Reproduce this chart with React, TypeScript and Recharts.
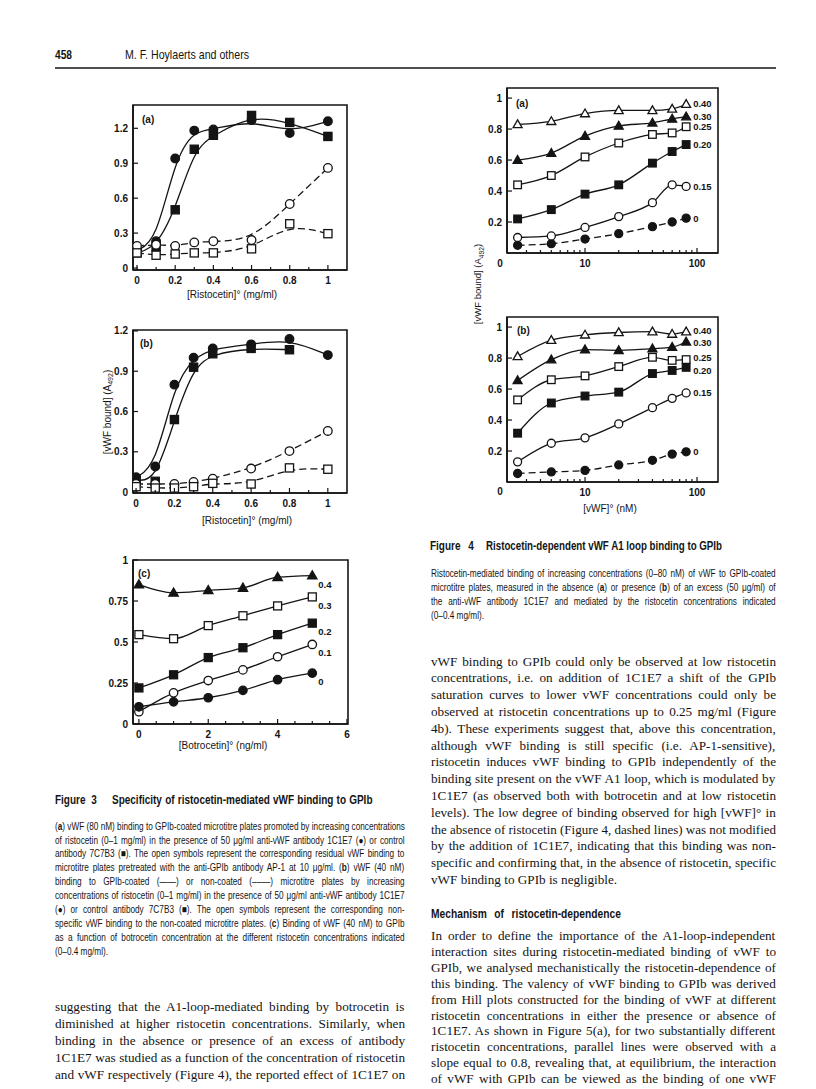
import React from "react";
import { LineChart, Line, XAxis, YAxis, ReferenceArea } from "recharts";

const SANS = "'Liberation Sans', Arial, Helvetica, sans-serif";
const SERIF = "'Liberation Serif', 'Times New Roman', serif";
const INK = "#141414";

// ---------- Figure 3 (a), (b): [Ristocetin] mg/ml ----------
const ristocetin = [0, 0.1, 0.2, 0.3, 0.4, 0.6, 0.8, 1];
const a_1C1E7 = [0.15, 0.23, 0.94, 1.18, 1.19, 1.27, 1.16, 1.26];
const a_7C7B3 = [0.13, 0.18, 0.5, 1.02, 1.14, 1.31, 1.25, 1.13];
const a_1C1E7_AP1 = [0.19, 0.2, 0.19, 0.22, 0.23, 0.24, 0.55, 0.86];
const a_7C7B3_AP1 = [0.13, 0.11, 0.12, 0.13, 0.13, 0.165, 0.38, 0.295];

const b_1C1E7 = [0.11, 0.19, 0.8, 1.0, 1.07, 1.1, 1.14, 1.02];
const b_7C7B3 = [0.09, 0.08, 0.54, 0.93, 1.03, 1.07, 1.06, null];
const b_1C1E7_noncoated = [0.06, 0.06, 0.06, 0.075, 0.1, 0.175, 0.305, 0.455];
const b_7C7B3_noncoated = [0.04, 0.03, 0.03, 0.04, 0.065, 0.06, 0.18, 0.17];

// ---------- Figure 3 (c): [Botrocetin] ng/ml ----------
const botrocetin = [0, 1, 2, 3, 4, 5];
const c_r04 = [0.85, 0.8, 0.815, 0.83, 0.895, 0.905];
const c_r03 = [0.545, 0.52, 0.6, 0.66, 0.72, 0.775];
const c_r02 = [0.22, 0.3, 0.405, 0.465, 0.545, 0.615];
const c_r01 = [0.075, 0.19, 0.265, 0.33, 0.41, 0.485];
const c_r0 = [0.105, 0.135, 0.16, 0.205, 0.27, 0.31];

// ---------- Figure 4: [vWF] nM ----------
const vwf = [2.5, 5, 10, 20, 40, 60, 80];
const f4a_040 = [0.83, 0.85, 0.9, 0.92, 0.92, 0.93, 0.96];
const f4a_030 = [0.6, 0.645, 0.755, 0.82, 0.84, 0.865, 0.88];
const f4a_025 = [0.44, 0.5, 0.62, 0.71, 0.765, 0.775, 0.815];
const f4a_020 = [0.22, 0.28, 0.38, 0.44, 0.58, 0.655, 0.7];
const f4a_015 = [0.1, 0.11, 0.165, 0.235, 0.325, 0.44, 0.43];
const f4a_0 = [0.05, 0.06, 0.09, 0.125, 0.17, 0.2, 0.225];

const f4b_040 = [0.81, 0.915, 0.95, 0.965, 0.97, 0.955, 0.97];
const f4b_030 = [0.655, 0.79, 0.855, 0.85, 0.86, 0.87, 0.905];
const f4b_025 = [0.53, 0.66, 0.685, 0.745, 0.805, 0.785, 0.79];
const f4b_020 = [0.315, 0.51, 0.555, 0.58, 0.7, 0.72, 0.74];
const f4b_015 = [0.13, 0.25, 0.285, 0.375, 0.48, 0.54, 0.575];
const f4b_0 = [0.055, 0.065, 0.075, 0.11, 0.14, 0.18, 0.195];

// ---------- ticks ----------
const ristTicks = [0, 0.1, 0.2, 0.3, 0.4, 0.5, 0.6, 0.7, 0.8, 0.9, 1];
const ristLabels = [0, 0.2, 0.4, 0.6, 0.8, 1];
const aYTicks = [0, 0.3, 0.6, 0.9, 1.2];
const botroTicks = [0, 0.5, 1, 1.5, 2, 2.5, 3, 3.5, 4, 4.5, 5, 5.5, 6];
const botroLabels = [0, 2, 4, 6];
const cYTicks = [0, 0.25, 0.5, 0.75, 1];
const logTicks = [3, 4, 5, 6, 7, 8, 9, 10, 20, 30, 40, 50, 60, 70, 80, 90, 100];
const logLabels = [10, 100];
const f4YTicks = [0.2, 0.4, 0.6, 0.8, 1];

// ---------- text ----------
const fig3Caption = [
  "(**a**) vWF (80 nM) binding to GPIb-coated microtitre plates promoted by increasing concentrations",
  "of ristocetin (0–1 mg/ml) in the presence of 50 μg/ml anti-vWF antibody 1C1E7 (●) or control",
  "antibody 7C7B3 (■). The open symbols represent the corresponding residual vWF binding to",
  "microtitre plates pretreated with the anti-GPIb antibody AP-1 at 10 μg/ml. (**b**) vWF (40 nM)",
  "binding to GPIb-coated (——) or non-coated (––––) microtitre plates by increasing",
  "concentrations of ristocetin (0–1 mg/ml) in the presence of 50 μg/ml anti-vWF antibody 1C1E7",
  "(●) or control antibody 7C7B3 (■). The open symbols represent the corresponding non-",
  "specific vWF binding to the non-coated microtitre plates. (**c**) Binding of vWF (40 nM) to GPIb",
  "as a function of botrocetin concentration at the different ristocetin concentrations indicated",
  "(0–0.4 mg/ml).",
];
const fig4Caption = [
  "Ristocetin-mediated binding of increasing concentrations (0–80 nM) of vWF to GPIb-coated",
  "microtitre plates, measured in the absence (**a**) or presence (**b**) of an excess (50 μg/ml) of",
  "the anti-vWF antibody 1C1E7 and mediated by the ristocetin concentrations indicated",
  "(0–0.4 mg/ml).",
];
const leftBody = [
  "suggesting that the A1-loop-mediated binding by botrocetin is",
  "diminished at higher ristocetin concentrations. Similarly, when",
  "binding in the absence or presence of an excess of antibody",
  "1C1E7 was studied as a function of the concentration of ristocetin",
  "and vWF respectively (Figure 4), the reported effect of 1C1E7 on",
];
const rightBody1 = [
  "vWF binding to GPIb could only be observed at low ristocetin",
  "concentrations, i.e. on addition of 1C1E7 a shift of the GPIb",
  "saturation curves to lower vWF concentrations could only be",
  "observed at ristocetin concentrations up to 0.25 mg/ml (Figure",
  "4b). These experiments suggest that, above this concentration,",
  "although vWF binding is still specific (i.e. AP-1-sensitive),",
  "ristocetin induces vWF binding to GPIb independently of the",
  "binding site present on the vWF A1 loop, which is modulated by",
  "1C1E7 (as observed both with botrocetin and at low ristocetin",
  "levels). The low degree of binding observed for high [vWF]° in",
  "the absence of ristocetin (Figure 4, dashed lines) was not modified",
  "by the addition of 1C1E7, indicating that this binding was non-",
  "specific and confirming that, in the absence of ristocetin, specific",
  "vWF binding to GPIb is negligible.",
];
const rightBody2 = [
  "In order to define the importance of the A1-loop-independent",
  "interaction sites during ristocetin-mediated binding of vWF to",
  "GPIb, we analysed mechanistically the ristocetin-dependence of",
  "this binding. The valency of vWF binding to GPIb was derived",
  "from Hill plots constructed for the binding of vWF at different",
  "ristocetin concentrations in either the presence or absence of",
  "1C1E7. As shown in Figure 5(a), for two substantially different",
  "ristocetin concentrations, parallel lines were observed with a",
  "slope equal to 0.8, revealing that, at equilibrium, the interaction",
  "of vWF with GPIb can be viewed as the binding of one vWF",
];

// ---------- helpers ----------
type Shape = "fc" | "oc" | "fs" | "os" | "ft" | "ot";
type Series = {
  key: string;
  values: (number | null)[];
  shape: Shape;
  dashed?: boolean;
  tag?: string;
  tagDy?: number;
};

const fmt = (v: number) => String(v);
const near = (list: number[], v: number) => list.some((l) => Math.abs(l - v) < 1e-6);

function xTick(labels: number[], dy: number) {
  return (p: any) => {
    const v = Number(p.payload.value);
    const major = near(labels, v);
    return (
      <g>
        <line x1={p.x} x2={p.x} y1={p.y} y2={p.y - (major ? 5 : 3)} stroke={INK} strokeWidth={1.2} />
        {major && (
          <text x={p.x} y={p.y + dy} textAnchor="middle" fontFamily={SANS} fontSize={10} fontWeight={700} fill={INK}>
            {fmt(v)}
          </text>
        )}
      </g>
    );
  };
}

function yTick(labels: number[]) {
  return (p: any) => {
    const v = Number(p.payload.value);
    const major = near(labels, v);
    return (
      <g>
        <line x1={p.x} x2={p.x + (major ? 5 : 3)} y1={p.y} y2={p.y} stroke={INK} strokeWidth={1.2} />
        {major && (
          <text x={p.x - 5} y={p.y + 3.5} textAnchor="end" fontFamily={SANS} fontSize={10} fontWeight={700} fill={INK}>
            {fmt(v)}
          </text>
        )}
      </g>
    );
  };
}

function dotRenderer(shape: Shape, r: number, last: number, tag: string | undefined, dx: number, dy: number) {
  return (p: any) => {
    const { cx, cy, index } = p;
    if (cx == null || cy == null || !isFinite(cx) || !isFinite(cy)) return <g key={`e${index}`} />;
    const fill = shape[0] === "f" ? INK : "#fff";
    let m;
    if (shape[1] === "c") m = <circle cx={cx} cy={cy} r={r} fill={fill} stroke={INK} strokeWidth={1.3} />;
    else if (shape[1] === "s")
      m = <rect x={cx - r * 0.95} y={cy - r * 0.95} width={r * 1.9} height={r * 1.9} fill={fill} stroke={INK} strokeWidth={1.3} />;
    else
      m = (
        <polygon
          points={`${cx},${cy - r * 1.15} ${cx - r * 1.12},${cy + r * 0.8} ${cx + r * 1.12},${cy + r * 0.8}`}
          fill={fill}
          stroke={INK}
          strokeWidth={1.3}
        />
      );
    return (
      <g key={`d${index}`}>
        {m}
        {tag && index === last ? (
          <text x={cx + dx} y={cy + dy} fontFamily={SANS} fontSize={9.5} fontWeight={700} fill={INK}>
            {tag}
          </text>
        ) : null}
      </g>
    );
  };
}

type PanelProps = {
  box: { left: number; top: number; width: number; height: number };
  plot: { l: number; t: number; r: number; b: number };
  xs: number[];
  series: Series[];
  xDomain: [number, number];
  yDomain: [number, number];
  xTicks: number[];
  xLabels: number[];
  yTicks: number[];
  yLabels: number[];
  log?: boolean;
  curve: "basis" | "monotone" | "linear";
  r: number;
  tagDx?: number;
  tagDy?: number;
};

function Panel(p: PanelProps) {
  const data = p.xs.map((x, i) => {
    const row: Record<string, number | null> = { x };
    p.series.forEach((s) => {
      const v = s.values[i];
      row[s.key] = v == null ? null : v;
    });
    return row;
  });
  const { left, top, width, height } = p.box;
  return (
    <div style={{ position: "absolute", left, top, width, height }}>
      <LineChart
        width={width}
        height={height}
        data={data}
        margin={{ top: p.plot.t - top, right: left + width - p.plot.r, bottom: 0, left: 0 }}
      >
        <XAxis
          dataKey="x"
          type="number"
          scale={p.log ? "log" : "linear"}
          domain={p.xDomain}
          allowDataOverflow
          ticks={p.xTicks}
          interval={0}
          tickSize={0}
          tickMargin={0}
          tickLine={false}
          height={top + height - p.plot.b}
          axisLine={{ stroke: INK, strokeWidth: 1.6 }}
          tick={xTick(p.xLabels, 13.5)}
        />
        <YAxis
          type="number"
          domain={p.yDomain}
          allowDataOverflow
          ticks={p.yTicks}
          interval={0}
          tickSize={0}
          tickMargin={0}
          tickLine={false}
          width={p.plot.l - left}
          axisLine={{ stroke: INK, strokeWidth: 1.6 }}
          tick={yTick(p.yLabels)}
        />
        <ReferenceArea
          x1={p.xDomain[0]}
          x2={p.xDomain[1]}
          y1={p.yDomain[0]}
          y2={p.yDomain[1]}
          fill="none"
          stroke={INK}
          strokeWidth={1.6}
          ifOverflow="visible"
        />
        {p.series.map((s) => {
          let last = -1;
          s.values.forEach((v, i) => {
            if (v != null) last = i;
          });
          return (
            <Line
              key={s.key}
              dataKey={s.key}
              type={p.curve}
              stroke={INK}
              strokeWidth={1.3}
              strokeDasharray={s.dashed ? "7 4" : undefined}
              dot={dotRenderer(s.shape, p.r, last, s.tag, p.tagDx ?? 6, s.tagDy ?? p.tagDy ?? 3.5)}
              activeDot={false}
              connectNulls={false}
              isAnimationActive={false}
            />
          );
        })}
      </LineChart>
    </div>
  );
}

// ---------- text lines (justified to column width) ----------
let ctx: CanvasRenderingContext2D | null = null;
function textWidth(t: string, font: string) {
  if (!ctx) ctx = document.createElement("canvas").getContext("2d");
  if (!ctx) return t.length * 5;
  ctx.font = font;
  return ctx.measureText(t).width;
}

function TLine(props: {
  x: number;
  y: number;
  w: number;
  text: string;
  size: number;
  family: string;
  weight?: number;
  sx?: number;
  justify?: boolean;
}) {
  const { x, y, w, text, size, family } = props;
  const weight = props.weight ?? 400;
  const sx = props.sx ?? 1;
  const justify = props.justify ?? true;
  const parts = text
    .split(/\*\*(.+?)\*\*/)
    .map((t, i) => ({ t, bold: i % 2 === 1 }))
    .filter((q) => q.t.length > 0);
  const font = (b: boolean) => `${b ? 700 : weight} ${size}px ${family}`;
  const natural = parts.reduce((a, q) => a + textWidth(q.t, font(q.bold)), 0);
  const spaces = (text.replace(/\*\*/g, "").match(/ /g) || []).length;
  const target = w / sx;
  let wordSpacing = 0;
  let textLength: number | undefined;
  if (natural > target) textLength = target;
  else if (justify && spaces) wordSpacing = (target - natural) / spaces;
  return (
    <text
      transform={`translate(${x} ${y}) scale(${sx} 1)`}
      fontFamily={family}
      fontSize={size}
      fontWeight={weight}
      fill={INK}
      style={{ whiteSpace: "pre", wordSpacing }}
      textLength={textLength}
      lengthAdjust="spacingAndGlyphs"
    >
      {parts.map((q, i) => (
        <tspan key={i} fontWeight={q.bold ? 700 : undefined}>
          {q.t}
        </tspan>
      ))}
    </text>
  );
}

function YTitle({ cx, cy, size }: { cx: number; cy: number; size: number }) {
  return (
    <text
      transform={`rotate(-90 ${cx} ${cy})`}
      x={cx}
      y={cy}
      textAnchor="middle"
      fontFamily={SANS}
      fontSize={size}
      fill={INK}
    >
      [vWF bound] (A
      <tspan dy={2.5} fontSize={size * 0.7}>
        492
      </tspan>
      <tspan dy={-2.5}>)</tspan>
    </text>
  );
}

function Overlay() {
  const capSize = 10.3;
  const capSx = 0.8;
  const bodySize = 13.2;
  return (
    <svg width={816} height={1089} style={{ position: "absolute", left: 0, top: 0, pointerEvents: "none" }}>
      {/* running head */}
      <TLine x={55} y={59} w={18} text="458" size={12} family={SANS} weight={700} sx={0.85} />
      <TLine x={125} y={59} w={124} text="M. F. Hoylaerts and others" size={12.5} family={SANS} sx={0.85} />
      <line x1={55} x2={776} y1={68} y2={68} stroke={INK} strokeWidth={1.6} />

      {/* chart annotations */}
      <text x={142} y={123} fontFamily={SANS} fontSize={10} fontWeight={700} fill={INK}>(a)</text>
      <text x={140} y={347} fontFamily={SANS} fontSize={10} fontWeight={700} fill={INK}>(b)</text>
      <text x={138} y={577} fontFamily={SANS} fontSize={10} fontWeight={700} fill={INK}>(c)</text>
      <text x={516} y={107} fontFamily={SANS} fontSize={10} fontWeight={700} fill={INK}>(a)</text>
      <text x={517} y={334} fontFamily={SANS} fontSize={10} fontWeight={700} fill={INK}>(b)</text>
      <text x={500} y={267} textAnchor="middle" fontFamily={SANS} fontSize={10} fontWeight={700} fill={INK}>0</text>
      <text x={500} y={495} textAnchor="middle" fontFamily={SANS} fontSize={10} fontWeight={700} fill={INK}>0</text>

      <text x={232} y={298} textAnchor="middle" fontFamily={SANS} fontSize={10} fill={INK}>[Ristocetin]° (mg/ml)</text>
      <text x={247} y={524} textAnchor="middle" fontFamily={SANS} fontSize={10} fill={INK}>[Ristocetin]° (mg/ml)</text>
      <text x={223} y={749} textAnchor="middle" fontFamily={SANS} fontSize={10} fill={INK}>[Botrocetin]° (ng/ml)</text>
      <text x={610} y={512} textAnchor="middle" fontFamily={SANS} fontSize={10} fill={INK}>[vWF]° (nM)</text>
      <YTitle cx={110.5} cy={412} size={10} />
      <YTitle cx={481} cy={284} size={9.5} />

      {/* Figure 3 caption */}
      <TLine x={55} y={804} w={42} text="Figure 3" size={12.5} family={SANS} weight={700} sx={0.8} />
      <TLine x={112} y={804} w={261} text="Specificity of ristocetin-mediated vWF binding to GPIb" size={12.5} family={SANS} weight={700} sx={0.8} />
      {fig3Caption.map((t, i) => (
        <TLine
          key={`c3${i}`}
          x={55}
          y={829.6 + i * 13.9}
          w={i === fig3Caption.length - 1 ? 57 : 350}
          text={t}
          size={capSize}
          family={SANS}
          sx={capSx}
          justify={i !== fig3Caption.length - 1}
        />
      ))}

      {/* Figure 4 caption */}
      <TLine x={430} y={550} w={44} text="Figure 4" size={12.5} family={SANS} weight={700} sx={0.8} />
      <TLine x={486} y={550} w={236} text="Ristocetin-dependent vWF A1 loop binding to GPIb" size={12.5} family={SANS} weight={700} sx={0.8} />
      {fig4Caption.map((t, i) => (
        <TLine
          key={`c4${i}`}
          x={431}
          y={576.6 + i * 14}
          w={i === fig4Caption.length - 1 ? 56 : 345}
          text={t}
          size={capSize}
          family={SANS}
          sx={capSx}
          justify={i !== fig4Caption.length - 1}
        />
      ))}

      {/* body text */}
      {leftBody.map((t, i) => (
        <TLine key={`l${i}`} x={55} y={1010.5 + i * 17} w={350} text={t} size={bodySize} family={SERIF} />
      ))}
      {rightBody1.map((t, i) => (
        <TLine
          key={`r1${i}`}
          x={431}
          y={665.5 + i * 16.8}
          w={i === rightBody1.length - 1 ? 195 : 345}
          text={t}
          size={bodySize}
          family={SERIF}
          justify={i !== rightBody1.length - 1}
        />
      ))}
      <TLine x={431} y={918} w={190} text="Mechanism of ristocetin-dependence" size={12.5} family={SANS} weight={700} sx={0.82} />
      {rightBody2.map((t, i) => (
        <TLine key={`r2${i}`} x={431} y={940 + i * 15.9} w={345} text={t} size={bodySize} family={SERIF} />
      ))}
    </svg>
  );
}

export default function App() {
  const seriesA: Series[] = [
    { key: "c1e7", values: a_1C1E7, shape: "fc" },
    { key: "c7b3", values: a_7C7B3, shape: "fs" },
    { key: "c1e7ap1", values: a_1C1E7_AP1, shape: "oc", dashed: true },
    { key: "c7b3ap1", values: a_7C7B3_AP1, shape: "os", dashed: true },
  ];
  const seriesB: Series[] = [
    { key: "c1e7", values: b_1C1E7, shape: "fc" },
    { key: "c7b3", values: b_7C7B3, shape: "fs" },
    { key: "c1e7nc", values: b_1C1E7_noncoated, shape: "oc", dashed: true },
    { key: "c7b3nc", values: b_7C7B3_noncoated, shape: "os", dashed: true },
  ];
  const seriesC: Series[] = [
    { key: "r04", values: c_r04, shape: "ft", tag: "0.4" },
    { key: "r03", values: c_r03, shape: "os", tag: "0.3" },
    { key: "r02", values: c_r02, shape: "fs", tag: "0.2" },
    { key: "r01", values: c_r01, shape: "oc", tag: "0.1" },
    { key: "r0", values: c_r0, shape: "fc", tag: "0" },
  ];
  const series4a: Series[] = [
    { key: "r0", values: f4a_0, shape: "fc", dashed: true, tag: "0" },
    { key: "r015", values: f4a_015, shape: "oc", tag: "0.15" },
    { key: "r020", values: f4a_020, shape: "fs", tag: "0.20" },
    { key: "r025", values: f4a_025, shape: "os", tag: "0.25" },
    { key: "r030", values: f4a_030, shape: "ft", tag: "0.30" },
    { key: "r040", values: f4a_040, shape: "ot", tag: "0.40", tagDy: 2.5 },
  ];
  const series4b: Series[] = [
    { key: "r0", values: f4b_0, shape: "fc", dashed: true, tag: "0" },
    { key: "r015", values: f4b_015, shape: "oc", tag: "0.15" },
    { key: "r020", values: f4b_020, shape: "fs", tag: "0.20", tagDy: 6.5 },
    { key: "r025", values: f4b_025, shape: "os", tag: "0.25", tagDy: 1.5 },
    { key: "r030", values: f4b_030, shape: "ft", tag: "0.30", tagDy: 4 },
    { key: "r040", values: f4b_040, shape: "ot", tag: "0.40", tagDy: 2.5 },
  ];

  return (
    <div style={{ position: "absolute", left: 0, top: 0, width: 816, height: 1089, background: "#fff", overflow: "hidden" }}>
      <Panel
        box={{ left: 90, top: 95, width: 270, height: 215 }}
        plot={{ l: 133, t: 105, r: 347, b: 270 }}
        xs={ristocetin}
        series={seriesA}
        xDomain={[-0.021, 1.1]}
        yDomain={[-0.017, 1.4]}
        xTicks={ristTicks}
        xLabels={ristLabels}
        yTicks={aYTicks}
        yLabels={aYTicks}
        curve="basis"
        r={4.3}
      />
      <Panel
        box={{ left: 90, top: 320, width: 270, height: 210 }}
        plot={{ l: 133, t: 330, r: 347, b: 493 }}
        xs={ristocetin}
        series={seriesB}
        xDomain={[-0.016, 1.1]}
        yDomain={[-0.007, 1.207]}
        xTicks={ristTicks}
        xLabels={ristLabels}
        yTicks={aYTicks}
        yLabels={aYTicks}
        curve="basis"
        r={4.3}
      />
      <Panel
        box={{ left: 90, top: 550, width: 270, height: 195 }}
        plot={{ l: 133, t: 560, r: 348, b: 724 }}
        xs={botrocetin}
        series={seriesC}
        xDomain={[-0.17, 6.03]}
        yDomain={[0, 1]}
        xTicks={botroTicks}
        xLabels={botroLabels}
        yTicks={cYTicks}
        yLabels={cYTicks}
        curve="monotone"
        r={4.2}
        tagDx={6}
        tagDy={12}
      />
      <Panel
        box={{ left: 465, top: 80, width: 275, height: 195 }}
        plot={{ l: 507, t: 88, r: 718, b: 253 }}
        xs={vwf}
        series={series4a}
        xDomain={[2.01, 154]}
        yDomain={[0, 1.065]}
        xTicks={logTicks}
        xLabels={logLabels}
        yTicks={f4YTicks}
        yLabels={f4YTicks}
        log
        curve="monotone"
        r={4}
        tagDx={7}
        tagDy={3.5}
      />
      <Panel
        box={{ left: 465, top: 305, width: 275, height: 195 }}
        plot={{ l: 507, t: 317, r: 718, b: 482 }}
        xs={vwf}
        series={series4b}
        xDomain={[2.01, 154]}
        yDomain={[0, 1.065]}
        xTicks={logTicks}
        xLabels={logLabels}
        yTicks={f4YTicks}
        yLabels={f4YTicks}
        log
        curve="monotone"
        r={4}
        tagDx={7}
        tagDy={3.5}
      />
      <Overlay />
    </div>
  );
}
